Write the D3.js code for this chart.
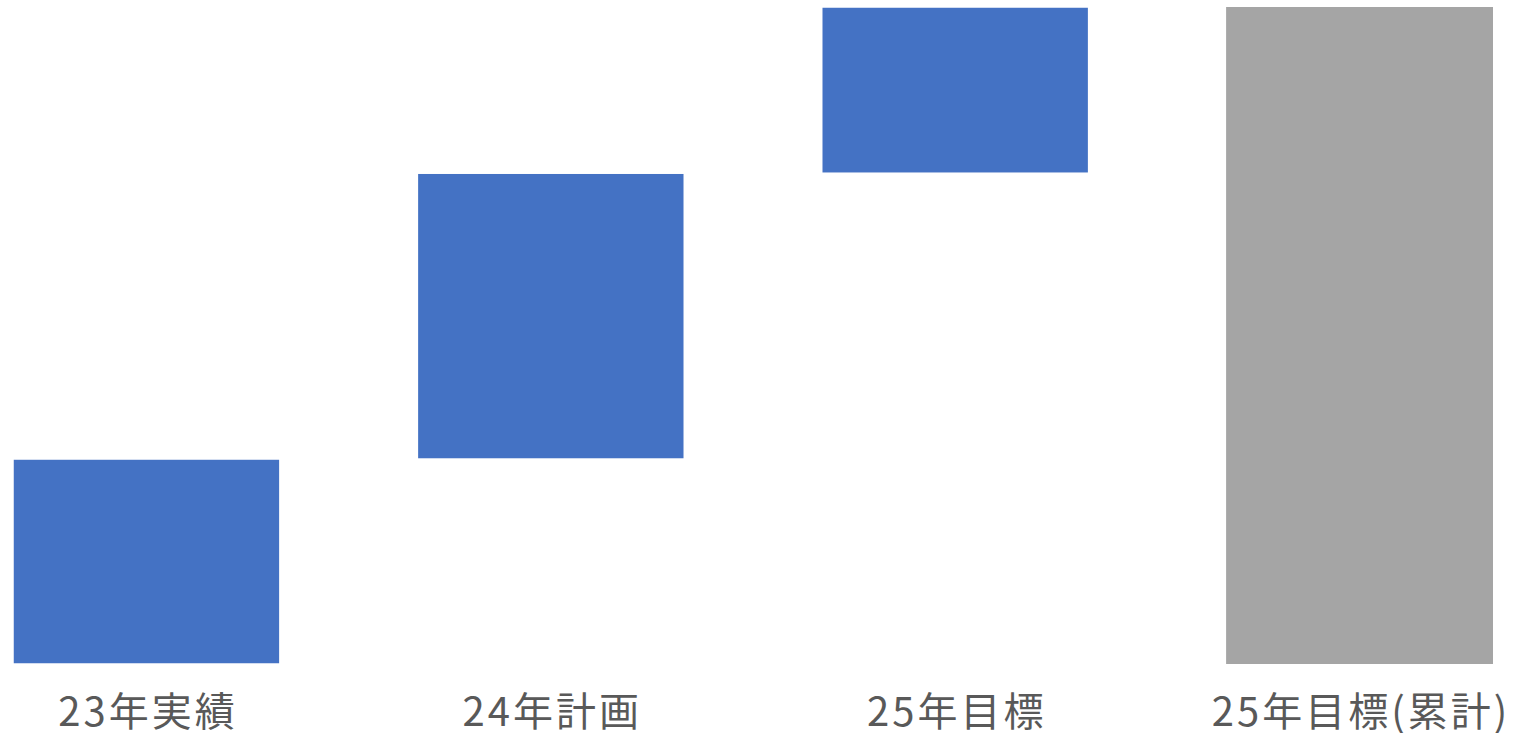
<!DOCTYPE html>
<html>
<head>
<meta charset="utf-8">
<script src="https://cdn.jsdelivr.net/npm/d3@7"></script>
<style>
    body { margin: 0; background: #fff; }
    .label { font-family: "Noto Sans CJK JP", sans-serif; font-size: 40px; fill: #595959; letter-spacing: 3px; }
</style>
</head>
<body>
<div id="chart"></div>
<script>
// chart data
var categories = ["23年実績", "24年計画", "25年目標", "25年目標(累計)"];
var steps = [31.2, 43.5, 25.3];      // 増分
var total = 100;                      // 累計

var svgWidth = 1522;
var svgHeight = 733;

var svg = d3.select("#chart")
    .append("svg")
    .attr("width", svgWidth)
    .attr("height", svgHeight);

// build floating bars
var bars = [];
var running = 0;
steps.forEach(function (v, i) {
    bars.push({ cat: categories[i], y0: running, y1: running + v, total: false });
    running += v;
});
bars.push({ cat: categories[3], y0: 0, y1: total, total: true });

var xScale = d3.scaleBand()
    .domain(categories)
    .range([13, 1493])
    .paddingInner(0.34)
    .paddingOuter(0);

var yScale = d3.scaleLinear()
    .domain([0, total])
    .range([664, 7]);

svg.selectAll("rect")
    .data(bars)
    .enter()
    .append("rect")
    .attr("x", d => xScale(d.cat))
    .attr("width", xScale.bandwidth())
    .attr("y", d => yScale(d.y1))
    .attr("height", d => yScale(d.y0) - yScale(d.y1))
    .attr("fill", d => d.total ? "#a5a5a5" : "#4472c4")
    .attr("stroke", "#fff")
    .attr("stroke-width", d => d.total ? 0 : 1.5);

// category labels
var bottomAxis = d3.axisBottom(xScale).tickSize(0).tickPadding(0);
var axisG = svg.append("g")
    .call(bottomAxis);
axisG.select(".domain").remove();
axisG.selectAll("text")
    .attr("class", "label")
    .attr("x", 1.5)
    .attr("y", 726)
    .attr("dy", null)
    .attr("text-anchor", "middle")
    .attr("font-family", null)
    .attr("font-size", null)
    .attr("fill", null);
</script>
</body>
</html>
